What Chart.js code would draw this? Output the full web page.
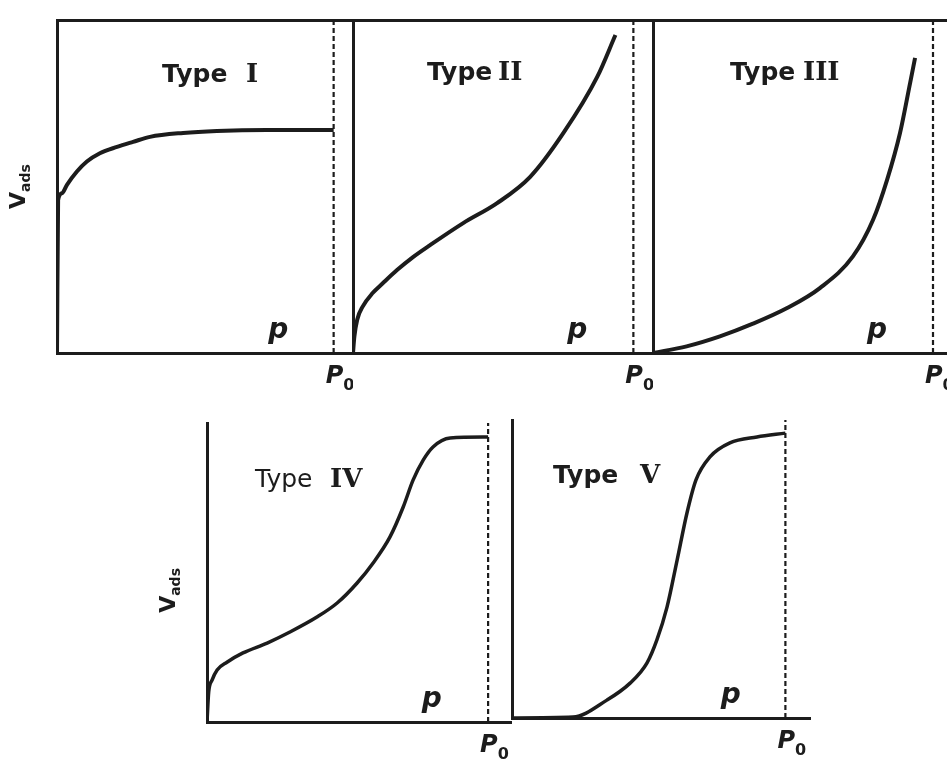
<!DOCTYPE html>
<html>
<head>
<meta charset="utf-8">
<script src="https://cdn.jsdelivr.net/npm/chart.js@4.4.1/dist/chart.umd.min.js"></script>
<style>
  body { margin: 0; background: #fff; width: 947px; height: 766px; overflow: hidden; position: relative; }
  canvas { position: absolute; }
</style>
</head>
<body>
<canvas id="type1"></canvas>
<canvas id="type2"></canvas>
<canvas id="type3"></canvas>
<canvas id="type4"></canvas>
<canvas id="type5"></canvas>
<script>
// relative pressure (P/P0) and adsorbed volume (share of the plot height)
const p0 = 1;

const type1P = [0, 0.004, 0.018, 0.036, 0.072, 0.108, 0.155, 0.217, 0.275, 0.336, 0.456, 0.578, 0.759, 1.0];
const type1V = [0, 0.459, 0.48, 0.505, 0.545, 0.575, 0.60, 0.619, 0.634, 0.649, 0.661, 0.667, 0.670, 0.670];

const type2P = [0, 0.005, 0.015, 0.035, 0.07, 0.107, 0.157, 0.214, 0.275, 0.393, 0.514, 0.632, 0.75, 0.871, 0.936];
const type2V = [0, 0.05, 0.1, 0.14, 0.18, 0.21, 0.249, 0.288, 0.324, 0.39, 0.45, 0.529, 0.66, 0.829, 0.955];

const type3P = [0, 0.12, 0.239, 0.357, 0.479, 0.596, 0.714, 0.786, 0.836, 0.882, 0.918, 0.936];
const type3V = [0, 0.02, 0.05, 0.088, 0.135, 0.195, 0.29, 0.4, 0.52, 0.66, 0.81, 0.886];

const type4P = [0, 0.006, 0.018, 0.036, 0.071, 0.128, 0.214, 0.295, 0.391, 0.463, 0.534, 0.591, 0.651, 0.698, 0.733, 0.769, 0.804, 0.865, 0.982, 1.0];
const type4V = [0, 0.1, 0.14, 0.174, 0.2, 0.231, 0.264, 0.301, 0.351, 0.398, 0.465, 0.532, 0.619, 0.719, 0.809, 0.876, 0.92, 0.95, 0.953, 0.953];

const type5P = [0, 0.223, 0.347, 0.432, 0.494, 0.53, 0.567, 0.604, 0.64, 0.673, 0.724, 0.797, 0.896, 1.0];
const type5V = [0, 0.003, 0.06, 0.117, 0.185, 0.262, 0.372, 0.53, 0.688, 0.799, 0.876, 0.923, 0.943, 0.956];

const typeNames = ['I', 'II', 'III', 'IV', 'V'];

const ink = '#1c1c1c';
const typeFont = 'bold 25px "DejaVu Sans"';
const numeralFont = 'bold 26px "DejaVu Serif"';
const pFont = 'italic bold 28px "DejaVu Sans"';
const p0Font = 'italic bold 24px "DejaVu Sans"';
const subFont = 'bold 16px "DejaVu Sans"';

// draws text pieces (with subscripts) at data positions of one panel
function annotate(items) {
  return {
    id: 'annotate',
    afterDraw(chart) {
      const { ctx, chartArea, scales } = chart;
      ctx.save();
      ctx.fillStyle = ink;
      ctx.textBaseline = 'alphabetic';
      ctx.textAlign = 'left';
      for (const t of items) {
        const px = t.dx != null ? chartArea.left + t.dx : scales.x.getPixelForValue(t.x);
        const py = scales.y.getPixelForValue(t.y);
        ctx.save();
        ctx.translate(px, py);
        if (t.rotate) ctx.rotate(t.rotate);
        let cx = 0;
        if (t.center) {
          let w = 0;
          t.parts.forEach(part => { ctx.font = part.font; w += ctx.measureText(part.text).width; });
          cx = -w / 2;
        }
        for (const part of t.parts) {
          ctx.font = part.font;
          if (part.at != null) cx = part.at;
          ctx.fillText(part.text, cx, part.dy || 0);
          cx += ctx.measureText(part.text).width;
        }
        ctx.restore();
      }
      ctx.restore();
    }
  };
}

function typeLabel(name, x, y, numeralAt, font) {
  return { x: x, y: y, parts: [
    { text: 'Type', font: font || typeFont },
    { text: name, font: numeralFont, at: numeralAt }
  ] };
}
const pLabel = { x: 0.8, y: 0, center: true, parts: [{ text: 'p', font: pFont, dy: -15 }] };
const p0Label = { x: p0, y: 0, parts: [
  { text: 'P', font: p0Font, dy: 30, at: -8 },
  { text: '0', font: subFont, dy: 37 }
] };
function vadsLabel(y) {
  return { dx: -32, y: y, rotate: -Math.PI / 2, center: true, parts: [
    { text: 'V', font: 'bold 22px "DejaVu Sans"' },
    { text: 'ads', font: 'bold 14px "DejaVu Sans"', dy: 5 }
  ] };
}

const panels = [
  { id: 'type1', left: 0, top: 0, w: 353, h: 400, padL: 57, padT: 20, padB: 47, padR: 0, xMax: 1.07, frameTop: true, lw: 4,
    p: type1P, v: type1V,
    items: [typeLabel(typeNames[0], 0.38, 0.814, 84), pLabel, p0Label, vadsLabel(0.5)] },
  { id: 'type2', left: 343, top: 0, w: 310, h: 400, padL: 10, padT: 20, padB: 47, padR: 0, xMax: 1.07, frameTop: true, lw: 4,
    p: type2P, v: type2V,
    items: [typeLabel(typeNames[1], 0.264, 0.82, 71), pLabel, p0Label] },
  { id: 'type3', left: 643, top: 0, w: 304, h: 400, padL: 10, padT: 20, padB: 47, padR: 0, xMax: 1.05, frameTop: true, lw: 4,
    p: type3P, v: type3V,
    items: [typeLabel(typeNames[2], 0.275, 0.82, 73), pLabel, p0Label] },
  { id: 'type4', left: 150, top: 380, w: 362, h: 386, padL: 57, padT: 43, padB: 44, padR: 0, xMax: 1.085, frameTop: false, lw: 3.5,
    p: type4P, v: type4V,
    items: [typeLabel(typeNames[3], 0.171, 0.786, 75, '25px "DejaVu Sans"'), pLabel, p0Label, vadsLabel(0.44)] },
  { id: 'type5', left: 500, top: 380, w: 330, h: 386, padL: 12, padT: 40, padB: 48, padR: 20, xMax: 1.09, frameTop: false, lw: 3.5,
    p: type5P, v: type5V,
    items: [typeLabel(typeNames[4], 0.15, 0.789, 87), pLabel, p0Label] }
];

function makePanel(cfg) {
  const canvas = document.getElementById(cfg.id);
  canvas.width = cfg.w;
  canvas.height = cfg.h;
  canvas.style.left = cfg.left + 'px';
  canvas.style.top = cfg.top + 'px';

  const axisBorder = { display: true, color: ink, width: 3 };
  const scales = {
    x: { type: 'linear', min: 0, max: cfg.xMax, ticks: { display: false }, grid: { display: false },
         border: axisBorder, afterFit: s => { s.height = cfg.padB; } },
    y: { type: 'linear', min: 0, max: 1, ticks: { display: false }, grid: { display: false },
         border: axisBorder, afterFit: s => { s.width = cfg.padL; } }
  };
  if (cfg.frameTop) {
    scales.x2 = { type: 'linear', position: 'top', min: 0, max: cfg.xMax, ticks: { display: false },
                  grid: { display: false }, border: axisBorder, afterFit: s => { s.height = cfg.padT; } };
  }

  new Chart(canvas, {
    type: 'line',
    data: {
      datasets: [
        {
          data: cfg.p.map((x, i) => ({ x: x, y: cfg.v[i] })),
          borderColor: ink,
          borderWidth: cfg.lw,
          pointRadius: 0,
          cubicInterpolationMode: 'monotone',
          fill: false
        },
        {
          data: [{ x: p0, y: 0 }, { x: p0, y: 1 }],
          borderColor: ink,
          borderWidth: 2.2,
          borderDash: [5, 3],
          pointRadius: 0,
          fill: false
        }
      ]
    },
    options: {
      responsive: false,
      animation: false,
      devicePixelRatio: 1,
      layout: { padding: { left: 0, right: cfg.padR, top: cfg.frameTop ? 0 : cfg.padT, bottom: 0 } },
      plugins: { legend: { display: false }, tooltip: { enabled: false } },
      scales: scales
    },
    plugins: [annotate(cfg.items)]
  });
}

panels.forEach(makePanel);
</script>
</body>
</html>
